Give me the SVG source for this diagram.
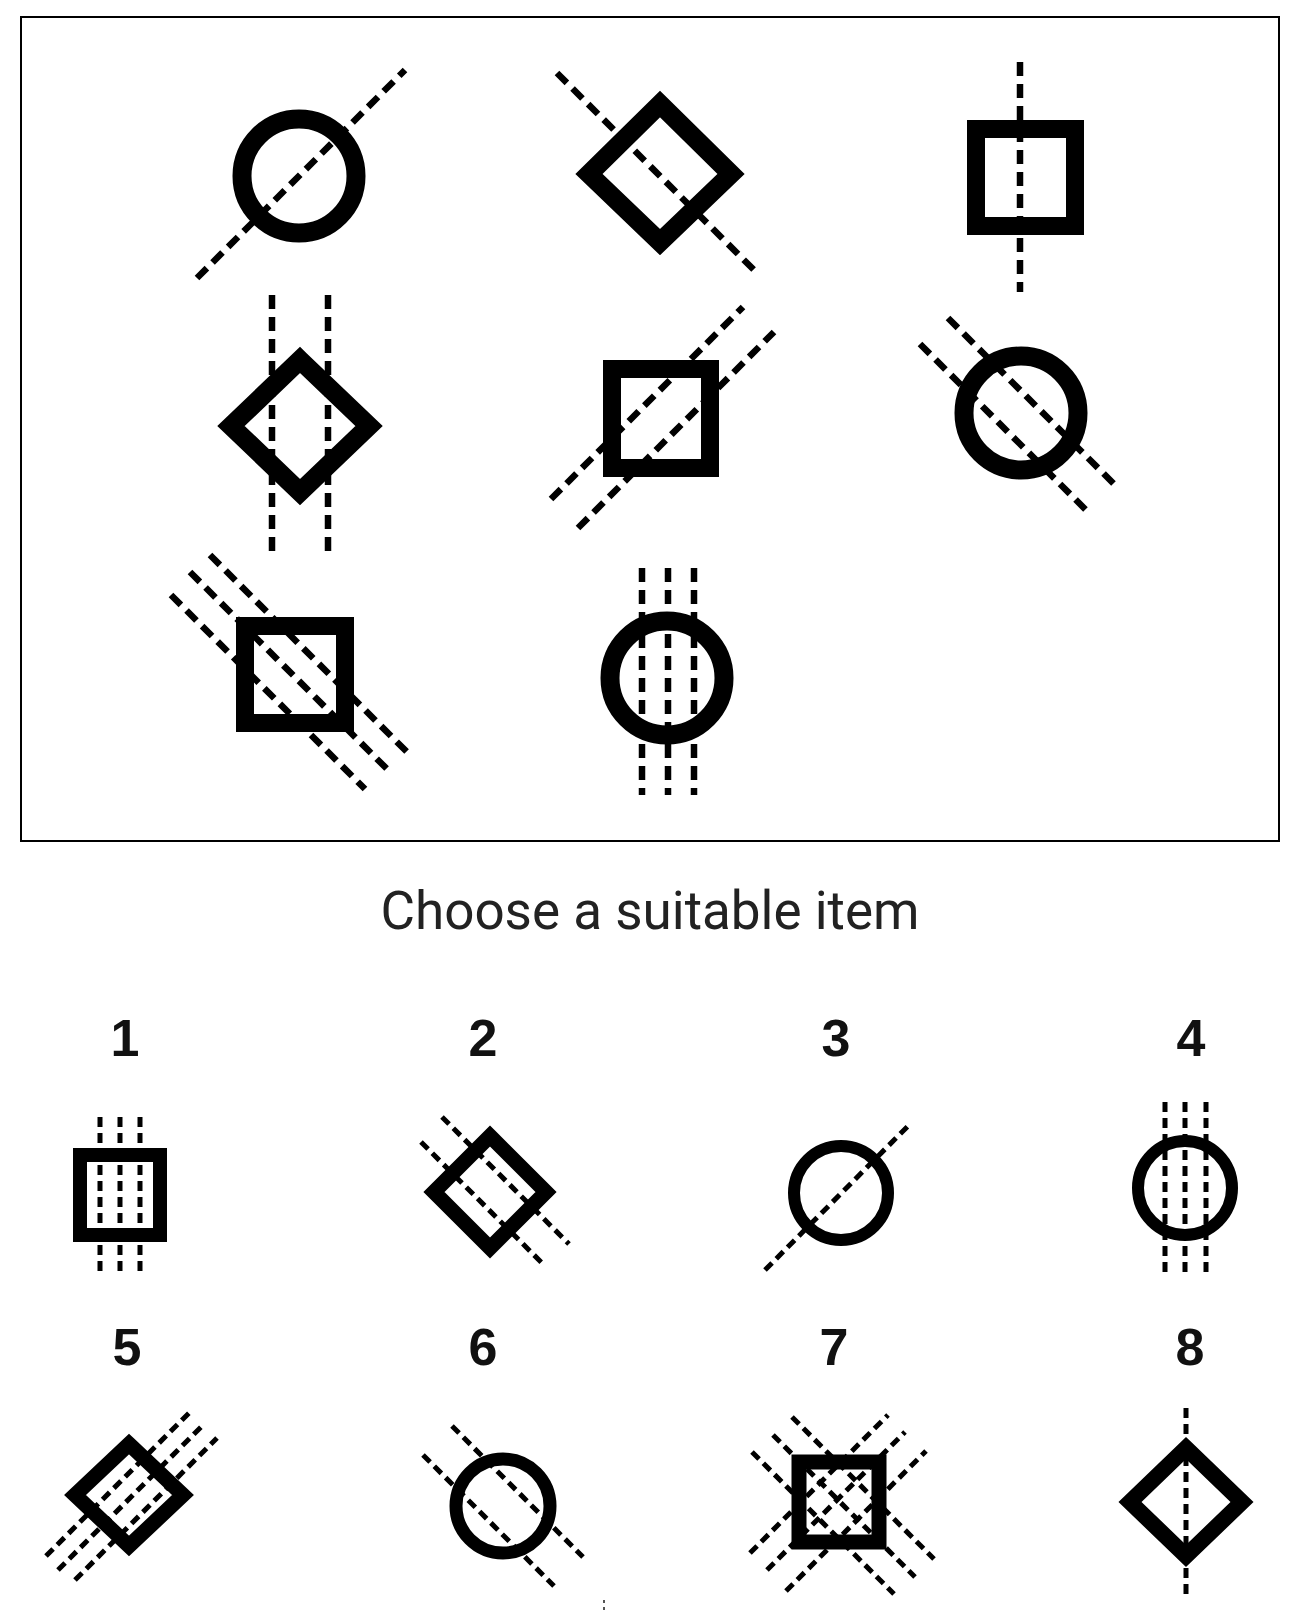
<svg xmlns="http://www.w3.org/2000/svg" width="1301" height="1614" viewBox="0 0 1301 1614">
<style>
.ring{fill:none;stroke:#000;stroke-linejoin:miter}
.big{stroke-width:19}
.sq{stroke-width:18}
.dl{stroke:#000;stroke-width:6.5;stroke-dasharray:14 8;fill:none}
.ds{stroke:#000;stroke-width:5;stroke-dasharray:10 6;fill:none}
.num{font-family:"Liberation Sans",Arial,sans-serif;font-weight:bold;font-size:52px;fill:#111;text-anchor:middle}
.title{font-family:Roboto,"Noto Sans",sans-serif;font-size:53px;fill:#222;text-anchor:middle}
</style>
<rect width="1301" height="1614" fill="#fff"/>
<rect id="frame" x="21" y="17" width="1258" height="824" fill="none" stroke="#000" stroke-width="2"/>

<g id="cellA">
<circle class="ring big" cx="299" cy="176" r="57"/>
<line class="dl" x1="197" y1="278" x2="405" y2="70"/>
</g>
<g id="cellB">
<polygon class="ring big" points="660,104 731,174 660,242 589,174"/>
<line class="dl" x1="557" y1="73" x2="757" y2="273"/>
</g>
<g id="cellC">
<rect class="ring sq" x="976" y="129" width="99" height="97"/>
<line class="dl" x1="1020" y1="62" x2="1020" y2="292"/>
</g>
<g id="cellD">
<polygon class="ring big" points="300,360 369,426 300,492 231,426"/>
<line class="dl" x1="272" y1="295" x2="272" y2="556"/>
<line class="dl" x1="328" y1="295" x2="328" y2="556"/>
</g>
<g id="cellE">
<rect class="ring sq" x="612" y="369" width="98" height="99"/>
<line class="dl" x1="551" y1="499" x2="743" y2="307"/>
<line class="dl" x1="578" y1="528" x2="774" y2="332"/>
</g>
<g id="cellF">
<circle class="ring big" cx="1021" cy="413" r="57"/>
<line class="dl" x1="948" y1="318" x2="1117" y2="487"/>
<line class="dl" x1="920" y1="344" x2="1087" y2="511"/>
</g>
<g id="cellG">
<rect class="ring sq" x="245" y="626" width="100" height="97"/>
<line class="dl" x1="210" y1="555" x2="408" y2="753"/>
<line class="dl" x1="190" y1="572" x2="389" y2="771"/>
<line class="dl" x1="171" y1="595" x2="365" y2="789"/>
</g>
<g id="cellH">
<circle class="ring big" cx="667" cy="678" r="57"/>
<line class="dl" x1="642" y1="568" x2="642" y2="795"/>
<line class="dl" x1="668" y1="568" x2="668" y2="795"/>
<line class="dl" x1="694" y1="568" x2="694" y2="795"/>
</g>

<text id="title" class="title" x="650" y="929">Choose a suitable item</text>

<g id="opt1">
<text class="num" x="125" y="1056">1</text>
<rect class="ring" stroke-width="14" x="80" y="1155" width="80" height="80"/>
<line class="ds" x1="100" y1="1117" x2="100" y2="1273"/>
<line class="ds" x1="120" y1="1117" x2="120" y2="1273"/>
<line class="ds" x1="140" y1="1117" x2="140" y2="1273"/>
</g>
<g id="opt2">
<text class="num" x="483" y="1056">2</text>
<polygon class="ring" stroke-width="15" points="490,1136 546,1192 490,1248 434,1192"/>
<line class="ds" x1="442" y1="1117" x2="569" y2="1244"/>
<line class="ds" x1="421" y1="1142" x2="544" y2="1265"/>
</g>
<g id="opt3">
<text class="num" x="836" y="1056">3</text>
<circle class="ring" stroke-width="12" cx="841" cy="1193" r="47"/>
<line class="ds" x1="765" y1="1270" x2="909" y2="1125"/>
</g>
<g id="opt4">
<text class="num" x="1191" y="1056">4</text>
<circle class="ring" stroke-width="12" cx="1185" cy="1188" r="47"/>
<line class="ds" x1="1165" y1="1102" x2="1165" y2="1278"/>
<line class="ds" x1="1185" y1="1102" x2="1185" y2="1278"/>
<line class="ds" x1="1206" y1="1102" x2="1206" y2="1278"/>
</g>
<g id="opt5">
<text class="num" x="127" y="1365">5</text>
<polygon class="ring" stroke-width="15" points="129,1444 183,1495 129,1546 75,1495"/>
<line class="ds" x1="46" y1="1556" x2="190" y2="1412"/>
<line class="ds" x1="58" y1="1570" x2="202" y2="1426"/>
<line class="ds" x1="75" y1="1580" x2="217" y2="1438"/>
</g>
<g id="opt6">
<text class="num" x="483" y="1365">6</text>
<circle class="ring" stroke-width="13" cx="503" cy="1506" r="47"/>
<line class="ds" x1="452" y1="1426" x2="583" y2="1557"/>
<line class="ds" x1="423" y1="1455" x2="554" y2="1586"/>
</g>
<g id="opt7">
<text class="num" x="834" y="1365">7</text>
<rect class="ring" stroke-width="15" x="799" y="1462" width="80" height="80"/>
<line class="ds" x1="752" y1="1452" x2="894" y2="1594"/>
<line class="ds" x1="773" y1="1435" x2="915" y2="1577"/>
<line class="ds" x1="792" y1="1417" x2="934" y2="1559"/>
<line class="ds" x1="750" y1="1553" x2="888" y2="1415"/>
<line class="ds" x1="767" y1="1570" x2="905" y2="1432"/>
<line class="ds" x1="786" y1="1591" x2="926" y2="1451"/>
</g>
<g id="opt8">
<text class="num" x="1190" y="1365">8</text>
<polygon class="ring" stroke-width="16" points="1186,1448 1242,1502 1186,1556 1130,1502"/>
<line class="ds" x1="1186" y1="1408" x2="1186" y2="1595"/>
</g>
<g id="speck" fill="#555">
<rect x="603" y="1600" width="2" height="3"/>
<rect x="603" y="1607" width="2" height="3"/>
</g>
</svg>
